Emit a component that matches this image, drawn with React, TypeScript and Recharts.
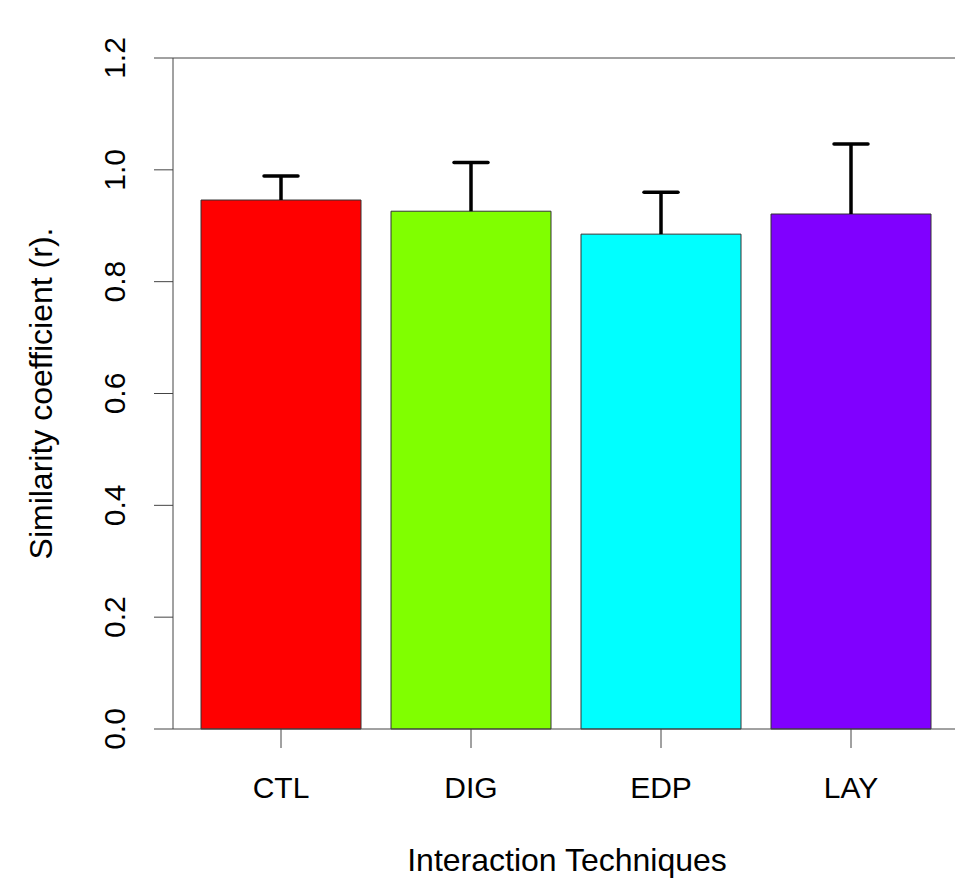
import React from 'react';
import { BarChart, Bar, XAxis, YAxis, Cell, ReferenceLine, Label } from 'recharts';

const techniques = ['CTL', 'DIG', 'EDP', 'LAY'];
const meanR = [0.946, 0.926, 0.885, 0.921];
const sdR = [0.043, 0.087, 0.075, 0.125];
const yTicks = [0, 0.2, 0.4, 0.6, 0.8, 1.0, 1.2];

const barColors = ['#ff0000', '#80ff00', '#00ffff', '#8000ff'];

const data = techniques.map((name, i) => ({ name, mean: meanR[i], sd: sdR[i] }));

const FONT = '"Liberation Sans", Arial, sans-serif';
const AXIS = '#444';

const XTick = (props: any) => {
  const { x, y, payload } = props;
  return (
    <text x={x} y={y + 50} textAnchor="middle" fontFamily={FONT} fontSize={30} fill="#000">
      {payload.value}
    </text>
  );
};

const YTick = (props: any) => {
  const { x, y, payload } = props;
  return (
    <text
      transform={`translate(${x - 29},${y}) rotate(-90)`}
      textAnchor="middle"
      fontFamily={FONT}
      fontSize={30}
      fill="#000"
    >
      {Number(payload.value).toFixed(1)}
    </text>
  );
};

// upper-only error bar drawn as a stacked invisible segment
const ErrShape = (props: any) => {
  const { x, y, width, height } = props;
  const cx = x + width / 2;
  return (
    <g>
      <line x1={cx} x2={cx} y1={y + height} y2={y} stroke="#000" strokeWidth={3.5} />
      <line x1={cx - 17} x2={cx + 17} y1={y} y2={y} stroke="#000" strokeWidth={3.5} strokeLinecap="round" />
    </g>
  );
};

export default function App() {
  return (
    <div style={{ width: 955, height: 879, background: '#fff' }}>
      <style>{'body{margin:0}'}</style>
      <BarChart
        width={955}
        height={879}
        data={data}
        margin={{ top: 58, right: 0, left: 0, bottom: 0 }}
        barSize={160}
      >
        <XAxis
          dataKey="name"
          height={150}
          padding={{ left: 13, right: 9 }}
          tickSize={19}
          tickMargin={0}
          stroke={AXIS}
          tickLine={{ stroke: AXIS }}
          tick={<XTick />}
        >
          <Label
            content={(p: any) => {
              const vb = p.viewBox;
              return (
                <text
                  x={vb.x + vb.width / 2 + 3}
                  y={871}
                  textAnchor="middle"
                  fontFamily={FONT}
                  fontSize={32}
                  fill="#000"
                >
                  Interaction Techniques
                </text>
              );
            }}
          />
        </XAxis>
        <YAxis
          width={173}
          domain={[0, 1.2]}
          ticks={yTicks}
          tickSize={19}
          tickMargin={0}
          stroke={AXIS}
          tickLine={{ stroke: AXIS }}
          tick={<YTick />}
          interval={0}
        >
          <Label
            content={(p: any) => {
              const vb = p.viewBox;
              return (
                <text
                  transform={`translate(52,${vb.y + vb.height / 2}) rotate(-90)`}
                  textAnchor="middle"
                  fontFamily={FONT}
                  fontSize={32}
                  fill="#000"
                >
                  Similarity coefficient (r).
                </text>
              );
            }}
          />
        </YAxis>
        <ReferenceLine y={1.2} stroke={AXIS} />
        <Bar dataKey="mean" stackId="a" stroke="#333" strokeWidth={1} isAnimationActive={false}>
          {data.map((d, i) => (
            <Cell key={d.name} fill={barColors[i]} />
          ))}
        </Bar>
        <Bar dataKey="sd" stackId="a" shape={<ErrShape />} isAnimationActive={false} />
      </BarChart>
    </div>
  );
}
